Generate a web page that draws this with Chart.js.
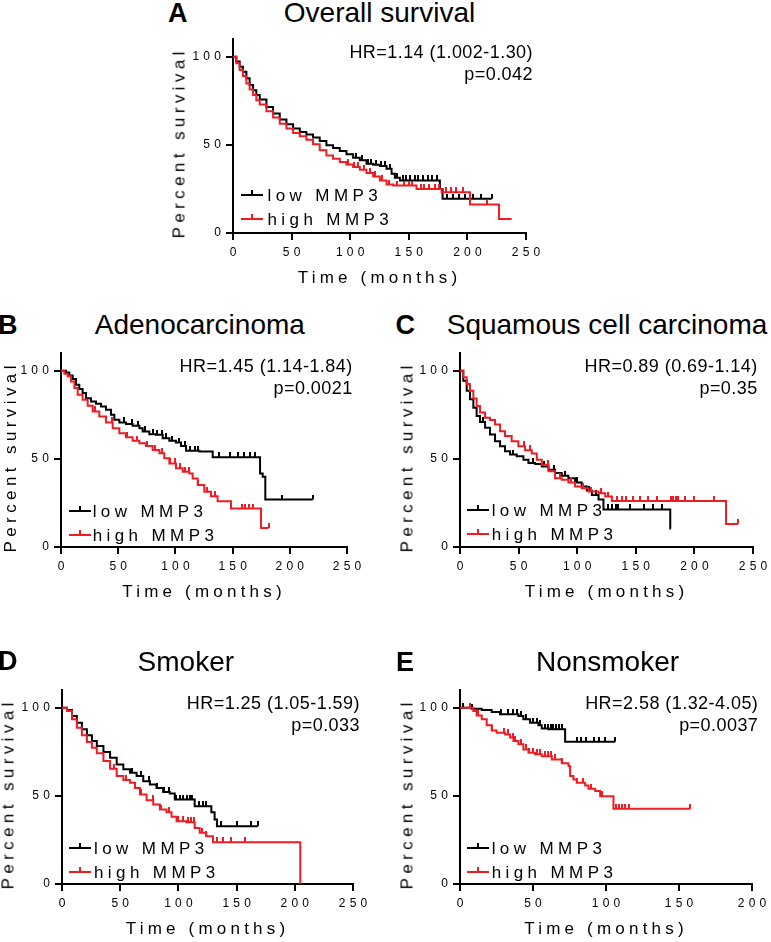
<!DOCTYPE html>
<html>
<head>
<meta charset="utf-8">
<script src="https://cdn.jsdelivr.net/npm/chart.js@4.4.1/dist/chart.umd.min.js"></script>
<style>
  html, body { margin: 0; padding: 0; background: #fff; }
  #fig { position: relative; width: 771px; height: 942px; overflow: hidden; font-family: "Liberation Sans", Arial, sans-serif; color: #000; }
  #fig canvas { position: absolute; }
  .title { position: absolute; width: 400px; text-align: center; font-size: 28px; line-height: 28px; white-space: nowrap; }
  .letter { position: absolute; font-size: 27px; line-height: 27px; font-weight: bold; }
  .stats { position: absolute; text-align: right; font-size: 18px; line-height: 21.5px; letter-spacing: 0.45px; white-space: nowrap; }
  .ytitle { position: absolute; font-size: 17px; line-height: 17px; letter-spacing: 4.4px; padding-left: 4.4px; white-space: nowrap; transform: translate(-50%, -50%) rotate(-90deg); }
  .leg { position: absolute; font-size: 17px; line-height: 17px; letter-spacing: 4.4px; white-space: nowrap; }
  .legline { position: absolute; width: 22px; height: 2px; }
  .legtick { position: absolute; width: 2px; height: 5px; }
</style>
</head>
<body>
<div id="fig"></div>
<script>
// ---- data (time in months, percent survival) ----
const xTicksMain = [0, 50, 100, 150, 200, 250];
const xTicksE = [0, 50, 100, 150, 200];
const yTicks = [0, 50, 100];

// A: overall survival
const aLowT = [0, 2.8, 5.7, 8.5, 11.4, 14.2, 17.1, 19.9, 22.8, 28.5, 34.2, 39.9, 45.6, 51.3, 57, 62.6, 68.3, 74, 79.7, 85.4, 91.1, 96.8, 102.5, 108.2, 113.9, 119.6, 125.3, 131, 135.3, 138.1, 142.4, 176.5, 178.8, 220.7];
const aLowS = [100, 97.2, 94.3, 91.5, 87.7, 83.9, 81, 78.2, 75.7, 71.5, 67.7, 64.3, 61.7, 59.2, 57.3, 55.8, 54.1, 52.2, 49.7, 48.2, 46.5, 44.6, 42.7, 41.2, 39.3, 38.7, 38, 36.4, 33.6, 31.3, 29.8, 25, 19.4, 19.4];
const aLowCens = [105, 110, 115, 118, 122, 126, 130, 134, 140, 145, 148, 151, 155, 158, 162, 166, 170, 174, 183, 188, 193, 198, 205, 212, 220.7];
const aHighT = [0, 2.8, 5.7, 8.5, 11.4, 14.2, 17.1, 19.9, 22.8, 28.5, 34.2, 39.9, 45.6, 51.3, 57, 62.6, 68.3, 74, 79.7, 85.4, 91.1, 96.8, 102.5, 108.2, 113.9, 119.6, 125.3, 131, 136.7, 156.6, 178, 202.2, 227, 237.8];
const aHighS = [100, 96.2, 92.4, 89, 84.8, 81.4, 78.2, 75.3, 72.9, 69.1, 65.5, 62, 59.2, 56.7, 54.8, 52.9, 50.3, 46.9, 44, 42.1, 40.2, 38.9, 37.4, 35.9, 34, 32.1, 29.8, 27.5, 26.9, 25, 23.1, 16.1, 8, 8];
const aHighCens = [98, 103, 107, 112, 117, 121, 127, 133, 140, 146, 150, 153, 160, 163, 167, 172, 176, 182, 186, 190, 196, 217];

// B: adenocarcinoma
const bLowT = [0, 4.4, 7.3, 10.2, 13.1, 16, 18.9, 21.9, 26.2, 30.6, 35, 39.3, 43.7, 46.6, 51, 56.8, 62.6, 68.5, 71.4, 77.2, 83, 88.9, 94.7, 100.5, 104.9, 109.3, 121, 132.6, 174, 176.3, 178.6, 220];
const bLowS = [100, 99, 97.2, 95.3, 92, 89.6, 87.3, 84.4, 82.5, 81.2, 79.7, 77.8, 75, 72.1, 70.6, 69.8, 68.7, 67.4, 65.5, 63.9, 63.6, 61.7, 60.3, 59.2, 57.3, 54.6, 54.1, 50.9, 41.7, 39.8, 26.9, 26.9];
const bLowCens = [55, 62, 67, 73, 80, 84, 88, 92, 97, 103, 108, 113, 117, 120, 138, 148, 155, 160, 165, 170, 193, 220];
const bHighT = [0, 2.9, 5.8, 8.7, 11.7, 14.6, 18.9, 23.3, 27.7, 33.5, 39.3, 45.2, 51, 56.8, 62.6, 68.5, 74.3, 80.1, 86, 90.3, 94.7, 100.5, 106.4, 112.2, 115.1, 119.5, 125.3, 131.1, 136.9, 148.6, 174.8, 181.5];
const bHighS = [100, 98.3, 96.8, 93.9, 90.1, 86.3, 83.5, 80.1, 76.9, 74, 70.6, 67.4, 64.5, 62.2, 60.3, 58.8, 57.3, 55, 53.1, 50.3, 47.4, 44.6, 42.7, 41.7, 38.9, 35.1, 31.3, 28.8, 26, 21.8, 10.8, 10.8];
const bHighCens = [30, 45, 58, 66, 75, 82, 88, 95, 100, 104, 108, 112, 120, 128, 135, 158, 161, 164, 168, 181.5];

// C: squamous cell carcinoma
const cLowT = [0, 2.8, 5.7, 8.5, 11.4, 14.2, 17.1, 21.4, 25.6, 29.9, 34.2, 38.4, 42.7, 48.4, 54.1, 58.4, 64.1, 69.8, 75.5, 81.1, 86.8, 92.5, 98.2, 103.9, 108.2, 112.5, 118.2, 122.4, 179.4, 180];
const cLowS = [100, 94.3, 88.6, 83.8, 79, 74.3, 70.9, 67.6, 63.8, 60, 57.1, 54.3, 52.4, 51.4, 49.5, 47.6, 47, 45.7, 43.8, 41.9, 40.4, 39, 36.6, 34.3, 32, 29.5, 27, 21.3, 10.5, 10.5];
const cLowCens = [20, 45, 62, 72, 80, 90, 100, 110, 116, 126, 130, 133, 135, 145, 157, 165, 172];
const cHighT = [0, 2.8, 5.7, 8.5, 11.4, 14.2, 17.1, 21.4, 25.6, 29.9, 34.2, 38.4, 44.1, 49.8, 55.5, 61.2, 65.5, 69.8, 75.5, 81.1, 86.8, 92.5, 98.2, 103.9, 109.6, 118.2, 123.9, 129.6, 227, 237.2];
const cHighS = [100, 96.2, 92.4, 88.6, 84.2, 80, 76.2, 73.3, 72, 69.5, 65.7, 62.9, 60, 57.1, 54.9, 53, 49.5, 46.7, 42.9, 39, 38.1, 36.6, 34.3, 33.3, 31.4, 30.5, 28.6, 26.1, 13, 13];
const cHighCens = [30, 55, 60, 75, 85, 95, 105, 112, 120, 126, 134, 138, 142, 148, 154, 160, 168, 180, 182, 184, 186, 192, 200, 217, 237.2];

// D: smoker
const dLowT = [0, 4.3, 8.6, 12.8, 17.1, 21.4, 25.7, 29.9, 35.6, 41.3, 47, 52.7, 58.4, 64.1, 69.8, 75.5, 81.2, 86.9, 92.6, 96.9, 114, 128.3, 131.1, 133.1, 168.2];
const dLowS = [100, 98.7, 95.3, 91.5, 87.7, 84.3, 81.1, 78.2, 74.8, 71.6, 67.8, 65, 63.1, 61.2, 58.3, 56.4, 54.5, 52.1, 51.3, 47.9, 44.1, 40.7, 36.6, 32.8, 32.8];
const dLowCens = [60, 68, 75, 82, 88, 92, 98, 101, 104, 107, 110, 112, 118, 121, 124, 137, 150, 162, 168.2];
const dHighT = [0, 4.3, 8.6, 12.8, 17.1, 21.4, 25.7, 29.9, 35.6, 41.3, 47, 52.7, 58.4, 62.7, 67, 72.7, 78.4, 84.1, 89.8, 94.1, 98.4, 106.9, 114, 118.3, 124, 129.7, 204.7];
const dHighS = [100, 98.1, 93.4, 88.6, 84.3, 80.5, 77.3, 74.1, 69.7, 65.3, 61.2, 58.9, 57.4, 54.5, 50.8, 47.5, 45.1, 42.2, 40.7, 38.1, 35.6, 35, 31.8, 29, 27.1, 23.7, 0];
const dHighCens = [45, 55, 68, 78, 85, 92, 100, 104, 108, 111, 113, 120, 124, 133, 138, 145, 157];

// E: nonsmoker
const eLowT = [0, 8, 14.9, 21.7, 27.4, 40, 43.4, 48, 53.7, 56, 60.6, 72, 106.3];
const eLowS = [100, 99.4, 98.7, 97.5, 96.2, 95.3, 93.4, 91.5, 90, 88.1, 87.7, 80.7, 80.7];
const eLowCens = [2, 8, 28, 33, 36, 39, 42, 45, 50, 53, 55, 58, 60, 62, 64, 66, 68, 70, 80, 83, 86, 92, 95, 99, 106.3];
const eHighT = [0, 9.1, 11.4, 14.9, 18.3, 21.7, 25.1, 30.9, 34.3, 36.6, 40, 43.4, 46.9, 51.4, 56, 62.9, 69.7, 74.3, 75.4, 77.7, 80, 85.7, 88, 92.6, 96, 105.1, 157.7];
const eHighS = [100, 98.1, 95.6, 93.4, 90, 87.1, 85.8, 84.8, 83, 81.1, 79.2, 76.3, 74.4, 73.5, 72.5, 70.6, 68.4, 66.9, 61.2, 59.3, 57.4, 55.9, 54, 52.7, 49.8, 42.6, 42.6];
const eHighCens = [7, 12, 22, 30, 33, 36, 38, 42, 45, 47, 50, 53, 55, 58, 60, 62, 65, 70, 80, 84, 90, 97, 107, 109, 111, 113, 116, 157.7];

const legendLabels = ['low MMP3', 'high MMP3'];
const xTitle = 'Time (months)';
const yTitle = 'Percent survival';

const panels = [
  { key: 'A', title: 'Overall survival', hr: 'HR=1.14 (1.002-1.30)', p: 'p=0.042', xMax: 250, xTicks: xTicksMain,
    low: [aLowT, aLowS, aLowCens], high: [aHighT, aHighS, aHighCens] },
  { key: 'B', title: 'Adenocarcinoma', hr: 'HR=1.45 (1.14-1.84)', p: 'p=0.0021', xMax: 250, xTicks: xTicksMain,
    low: [bLowT, bLowS, bLowCens], high: [bHighT, bHighS, bHighCens] },
  { key: 'C', title: 'Squamous cell carcinoma', hr: 'HR=0.89 (0.69-1.14)', p: 'p=0.35', xMax: 250, xTicks: xTicksMain,
    low: [cLowT, cLowS, cLowCens], high: [cHighT, cHighS, cHighCens] },
  { key: 'D', title: 'Smoker', hr: 'HR=1.25 (1.05-1.59)', p: 'p=0.033', xMax: 250, xTicks: xTicksMain,
    low: [dLowT, dLowS, dLowCens], high: [dHighT, dHighS, dHighCens] },
  { key: 'E', title: 'Nonsmoker', hr: 'HR=2.58 (1.32-4.05)', p: 'p=0.0037', xMax: 200, xTicks: xTicksE,
    low: [eLowT, eLowS, eLowCens], high: [eHighT, eHighS, eHighCens] }
];

// ---- layout (page pixels) ----
const boxes = {
  A: { L: 233, R: 526, T: 39, B: 233, tx: 379.5, ty: 13.3, lx: 168, ly: 13.3, sr: 533, sy: 52.8, gx: 241, gy: 195, gtx: 267.5, yx: 179, yy: 144.5 },
  B: { L: 61, R: 347, T: 353, B: 547, tx: 199.8, ty: 325, lx: -2, ly: 325, sr: 352.7, sy: 367, gx: 68.5, gy: 510.7, gtx: 92.7, yx: 10, yy: 459 },
  C: { L: 460, R: 753, T: 353, B: 547, tx: 607, ty: 325, lx: 395.5, ly: 325, sr: 757.7, sy: 367, gx: 467.3, gy: 510, gtx: 491.7, yx: 406.5, yy: 459 },
  D: { L: 62, R: 353, T: 690, B: 884, tx: 185.8, ty: 661.7, lx: -2, ly: 661.7, sr: 360, sy: 704, gx: 69.3, gy: 847.7, gtx: 94, yx: 8.3, yy: 796.3 },
  E: { L: 460, R: 752, T: 690, B: 884, tx: 607.5, ty: 662, lx: 396, ly: 662, sr: 758.3, sy: 704, gx: 467, gy: 847.7, gtx: 491.7, yx: 406.5, yy: 796.3 }
};

const BLACK = '#000000';
const RED = '#ee1d23';
const FONT = "'Liberation Sans', Arial, sans-serif";
const Y_AXIS_W = 60, X_AXIS_H = 60, PAD_TOP = 10, PAD_RIGHT = 25;
const SPACING = 4.2;

const fig = document.getElementById('fig');

function stepAt(ts, ss, t) {
  let v = ss[0];
  for (let i = 0; i < ts.length; i++) {
    if (ts[i] <= t) v = ss[i];
  }
  return v;
}

function censorMark(color) {
  const c = document.createElement('canvas');
  c.width = 2;
  c.height = 10;
  const g = c.getContext('2d');
  g.fillStyle = color;
  g.fillRect(0, 0, 2, 5);
  return c;
}

const marks = { black: censorMark(BLACK), red: censorMark(RED) };

// spaced-out axis lettering like the original figure
const letterSpacing = {
  id: 'letterSpacing',
  beforeDraw(chart) { chart.ctx.letterSpacing = SPACING + 'px'; },
  afterDraw(chart) { chart.ctx.letterSpacing = '0px'; }
};

function curveSets([ts, ss, cens], color, mark) {
  return [
    {
      data: ts.map((t, i) => ({ x: t, y: ss[i] })),
      showLine: true,
      stepped: true,
      borderColor: color,
      borderWidth: 2,
      pointRadius: 0,
      fill: false
    },
    {
      data: cens.map(t => ({ x: t, y: stepAt(ts, ss, t) })),
      showLine: false,
      pointStyle: mark,
      pointRadius: 3
    }
  ];
}

function axisCommon() {
  return {
    grid: { display: true, drawOnChartArea: false, drawTicks: true, tickLength: 7, color: BLACK, lineWidth: 2 },
    border: { display: true, color: BLACK, width: 2 }
  };
}

function addDiv(cls, text, style) {
  const d = document.createElement('div');
  d.className = cls;
  if (text !== null) d.textContent = text;
  Object.assign(d.style, style);
  fig.appendChild(d);
  return d;
}

panels.forEach(p => {
  const b = boxes[p.key];
  const canvas = document.createElement('canvas');
  const w = b.R - b.L + Y_AXIS_W + PAD_RIGHT;
  const h = b.B - b.T + PAD_TOP + X_AXIS_H;
  canvas.width = w;
  canvas.height = h;
  canvas.style.left = (b.L - Y_AXIS_W) + 'px';
  canvas.style.top = (b.T - PAD_TOP) + 'px';
  canvas.style.width = w + 'px';
  canvas.style.height = h + 'px';
  fig.appendChild(canvas);

  new Chart(canvas, {
    type: 'scatter',
    data: {
      datasets: [
        ...curveSets(p.high, RED, marks.red),
        ...curveSets(p.low, BLACK, marks.black)
      ]
    },
    options: {
      responsive: false,
      animation: false,
      events: [],
      layout: { padding: { top: PAD_TOP, right: PAD_RIGHT, left: 0, bottom: 0 } },
      plugins: { legend: { display: false }, tooltip: { enabled: false } },
      scales: {
        x: {
          type: 'linear',
          position: 'bottom',
          min: 0,
          max: p.xMax,
          afterBuildTicks: s => { s.ticks = p.xTicks.map(v => ({ value: v })); },
          afterFit: s => { s.height = X_AXIS_H; },
          ...axisCommon(),
          ticks: { color: BLACK, font: { family: FONT, size: 12 }, padding: 5, labelOffset: SPACING / 2, maxRotation: 0, autoSkip: false },
          title: { display: true, text: xTitle, color: BLACK, font: { family: FONT, size: 17 }, padding: { top: 0, bottom: 4 } }
        },
        y: {
          type: 'linear',
          min: 0,
          max: 110,
          afterBuildTicks: s => { s.ticks = yTicks.map(v => ({ value: v })); },
          afterFit: s => { s.width = Y_AXIS_W; },
          ...axisCommon(),
          ticks: { color: BLACK, font: { family: FONT, size: 12 }, padding: 1 }
        }
      }
    },
    plugins: [letterSpacing]
  });

  // panel letter, title and statistics
  addDiv('letter', p.key, { left: b.lx + 'px', top: (b.ly - 13.5) + 'px' });
  addDiv('title', p.title, { left: (b.tx - 200) + 'px', top: (b.ty - 14) + 'px' });
  const st = addDiv('stats', null, { right: (771 - b.sr) + 'px', top: (b.sy - 10.75) + 'px' });
  st.appendChild(document.createTextNode(p.hr));
  st.appendChild(document.createElement('br'));
  st.appendChild(document.createTextNode(p.p));

  // y axis title
  addDiv('ytitle', yTitle, { left: b.yx + 'px', top: b.yy + 'px' });

  // legend
  [BLACK, RED].forEach((color, i) => {
    const y = b.gy + i * 24;
    addDiv('legline', null, { left: b.gx + 'px', top: (y - 1) + 'px', background: color });
    addDiv('legtick', null, { left: (b.gx + 10) + 'px', top: (y - 5) + 'px', background: color });
    addDiv('leg', legendLabels[i], { left: b.gtx + 'px', top: (y - 8) + 'px' });
  });
});
</script>
</body>
</html>
